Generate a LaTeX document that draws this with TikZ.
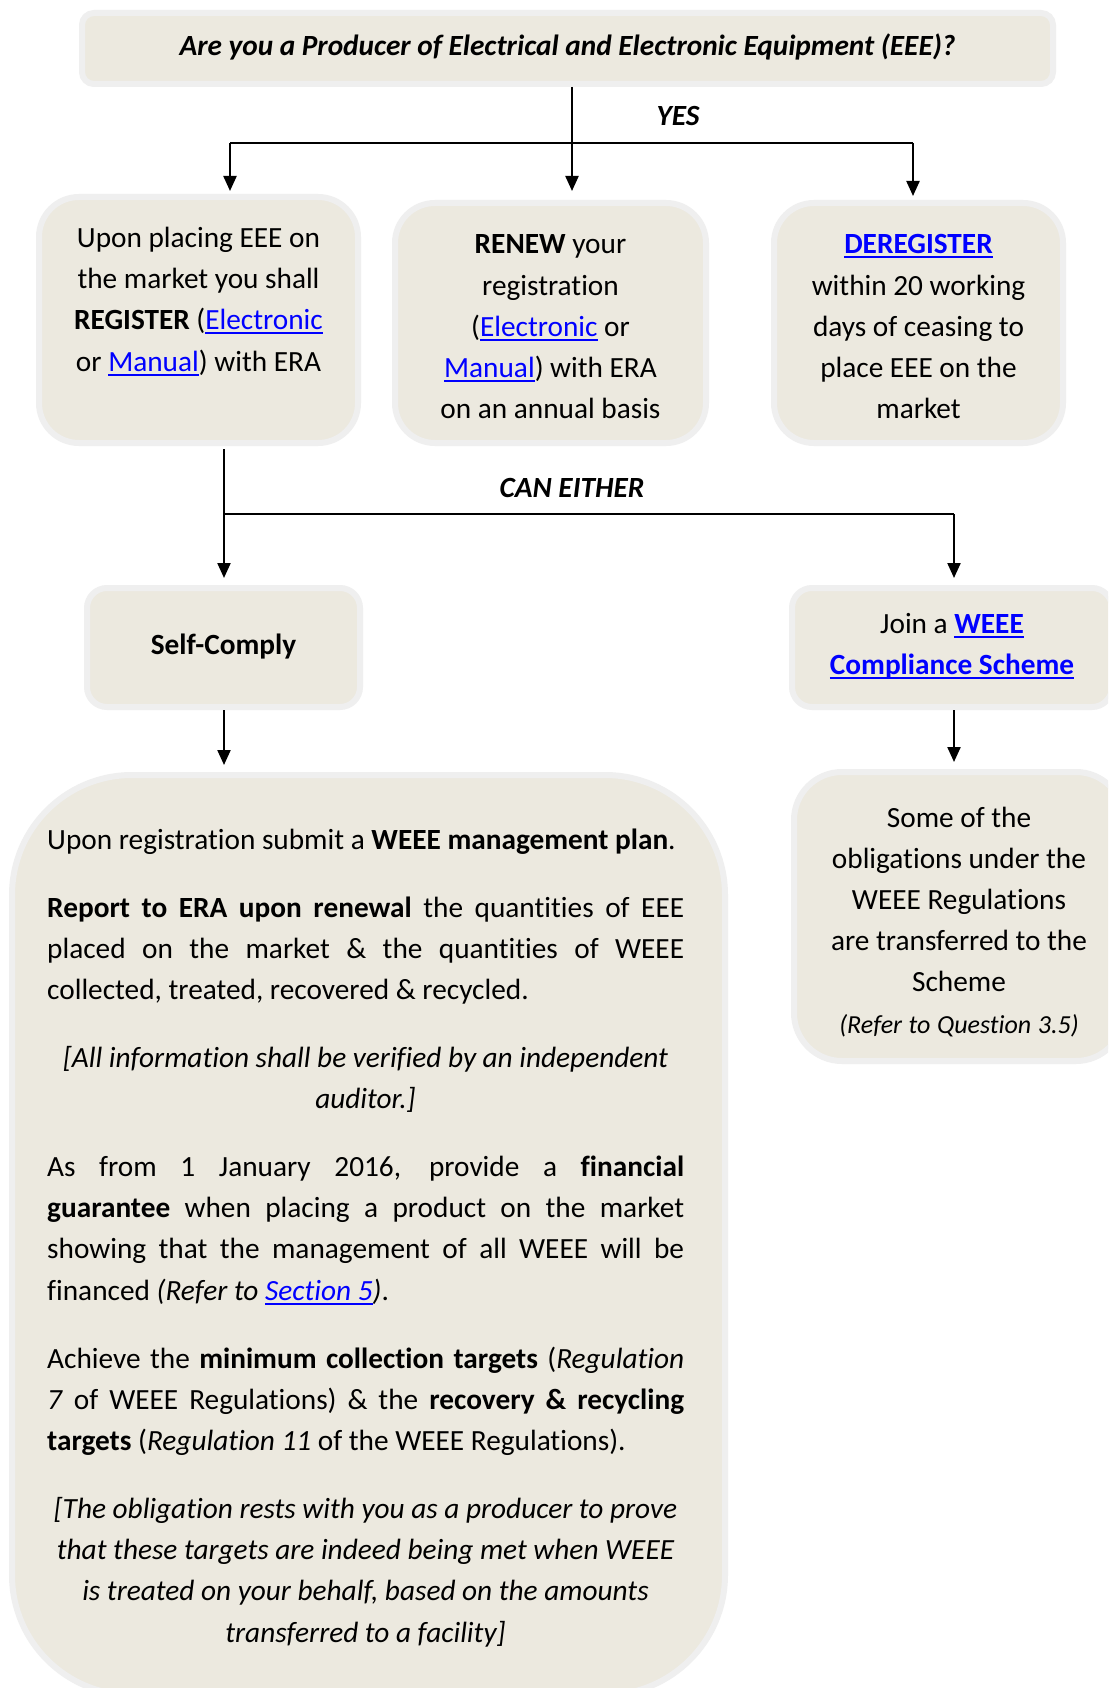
\documentclass[tikz,border=0pt]{standalone}
\usepackage{fontspec}
\setmainfont{Carlito}[Ligatures={NoCommon}]
\usetikzlibrary{arrows.meta}
\definecolor{boxfill}{RGB}{236,233,223}
\definecolor{boxedge}{RGB}{239,239,239}
\definecolor{linkblue}{RGB}{0,0,255}
\newsavebox\lnkbox
\newcommand\lnk[1]{\leavevmode{\color{linkblue}\sbox\lnkbox{#1}\rlap{\rule[-4.5pt]{\wd\lnkbox}{2pt}}\usebox\lnkbox}}
\newcommand\bodyfont{\fontsize{29.3pt}{41.2pt}\selectfont}
\newcommand\tsp{\spaceskip=6.6pt\xspaceskip=6.6pt\relax}
\newcommand\jline[1]{\leavevmode\hbox to 637pt{\spaceskip=6.6pt plus 1fil\xspaceskip=6.6pt plus 1fil\relax #1}}
\tikzset{
  box/.style={draw=boxedge, line width=6pt, fill=boxfill, inner sep=0pt, rectangle},
  txt/.style={inner sep=0pt, font=\bodyfont, anchor=base},
  conn/.style={line width=2.2pt, draw=black},
  arr/.style={conn, -{Triangle[width=13pt,length=15pt]}, shorten >=6pt}
}
\begin{document}
\begin{tikzpicture}[x=1pt,y=-1pt]
\useasboundingbox (0,0) rectangle (1108,1688);
\clip (0,0) rectangle (1108,1688);
\fill[white] (0,0) rectangle (1108,1688);
% boxes
\node[box, minimum width=971pt, minimum height=71pt, rounded corners=12pt] (top) at (567.5,48.5) {};
\node[box, minimum width=319pt, minimum height=246pt, rounded corners=40pt] (b1) at (198.5,320) {};
\node[box, minimum width=311pt, minimum height=240pt, rounded corners=40pt] (b2) at (550.5,323) {};
\node[box, minimum width=289pt, minimum height=240pt, rounded corners=40pt] (b3) at (918.5,323) {};
\node[box, minimum width=273pt, minimum height=119pt, rounded corners=20pt] (self) at (223.5,647.5) {};
\node[box, minimum width=320pt, minimum height=119pt, rounded corners=20pt] (join) at (952,647.5) {};
\node[box, minimum width=330pt, minimum height=289pt, rounded corners=48pt] (right) at (959,916.5) {};
\node[box, minimum width=713pt, minimum height=920pt, rounded corners=120pt] (big) at (368.5,1235) {};
% texts
\node[txt, text width=1000pt, align=center] (ttl) at (567.5,55.5) {\tsp\bfseries\itshape Are you a Producer of Electrical and Electronic Equipment (EEE)?};
\node[txt, font=\bodyfont\bfseries\itshape] (yes) at (678,126) {YES};
\node[txt, font=\bodyfont\bfseries\itshape] (either) at (572,497) {\tsp CAN EITHER};
\node[txt, text width=320pt, align=center] (t1) at (198.5,247.5) {\tsp Upon placing EEE on\\the market you shall\\\textbf{REGISTER} (\lnk{Electronic}\\or \lnk{Manual}) with ERA};
\node[txt, text width=310pt, align=center] (t2) at (550.5,254) {\tsp\textbf{RENEW} your\\registration\\(\lnk{Electronic} or\\\lnk{Manual}) with ERA\\on an annual basis};
\node[txt, text width=290pt, align=center] (t3) at (918.5,254) {\tsp\lnk{\textbf{DEREGISTER}}\\within 20 working\\days of ceasing to\\place EEE on the\\market};
\node[txt, text width=270pt, align=center] (ts) at (223.5,654.5) {\textbf{Self-Comply}};
\node[txt, text width=320pt, align=center] (tj) at (952,633) {\tsp Join a \lnk{\textbf{WEEE}}\\\lnk{\textbf{Compliance Scheme}}};
\node[txt, text width=330pt, align=center] (tr) at (959,827) {\tsp Some of the\\obligations under the\\WEEE Regulations\\are transferred to the\\Scheme\\\fontsize{26pt}{39pt}\selectfont\tsp\itshape (Refer to Question 3.5)};
% big box paragraphs
\node[txt, anchor=base west, text width=637pt, align=left] (p1) at (47,849.5) {\tsp Upon registration submit a \textbf{WEEE management plan}.};
\node[txt, anchor=base west, text width=637pt, align=left] (p2) at (47,917.5) {\tsp\jline{\textbf{Report to ERA upon renewal} the quantities of EEE}\\\jline{placed on the market \& the quantities of WEEE}\\collected, treated, recovered \& recycled.};
\node[txt, text width=637pt, align=center] (p3) at (365.5,1067.5) {\tsp\itshape [All information shall be verified by an independent\\auditor.]};
\node[txt, anchor=base west, text width=637pt, align=left] (p4) at (47,1176.5) {\tsp\jline{As from 1 January 2016, provide a \textbf{financial}}\\\jline{\textbf{guarantee} when placing a product on the market}\\\jline{showing that the management of all WEEE will be}\\financed \textit{(Refer to \lnk{Section 5})}.};
\node[txt, anchor=base west, text width=637pt, align=left] (p5) at (47,1368.5) {\tsp\jline{Achieve the \textbf{minimum collection targets} (\textit{Regulation}}\\\jline{\textit{7} of WEEE Regulations) \& the \textbf{recovery \& recycling}}\\\textbf{targets} (\textit{Regulation 11} of the WEEE Regulations).};
\node[txt, text width=637pt, align=center] (p6) at (365.5,1518.5) {\tsp\itshape [The obligation rests with you as a producer to prove\\that these targets are indeed being met when WEEE\\is treated on your behalf, based on the amounts\\transferred to a facility]};
% connectors
\coordinate (yj) at (572,143);
\coordinate (yl) at (230,143);
\coordinate (yr) at (913,143);
\coordinate (cj) at (224,514);
\coordinate (cr) at (954,514);
\draw[conn] (top.south -| yj) -- (yj);
\draw[conn] (yl) -- (yr);
\draw[arr, shorten >=3pt] (yl) -- (b1.north -| yl);
\draw[arr, shorten >=9pt] (yj) -- (b2.north -| yj);
\draw[arr, shorten >=4pt] (yr) -- (b3.north -| yr);
\draw[conn] (b1.south -| cj) ++(0,3) -- (cj);
\draw[conn] (cj) -- (cr);
\draw[arr, shorten >=7pt] (cj) -- (self.north -| cj);
\draw[arr, shorten >=7pt] (cr) -- (join.north -| cr);
\draw[arr, shorten >=7pt] (self.south -| cj) -- (big.north -| cj);
\draw[arr, shorten >=7pt] (join.south -| cr) -- (right.north -| cr);
\end{tikzpicture}
\end{document}
